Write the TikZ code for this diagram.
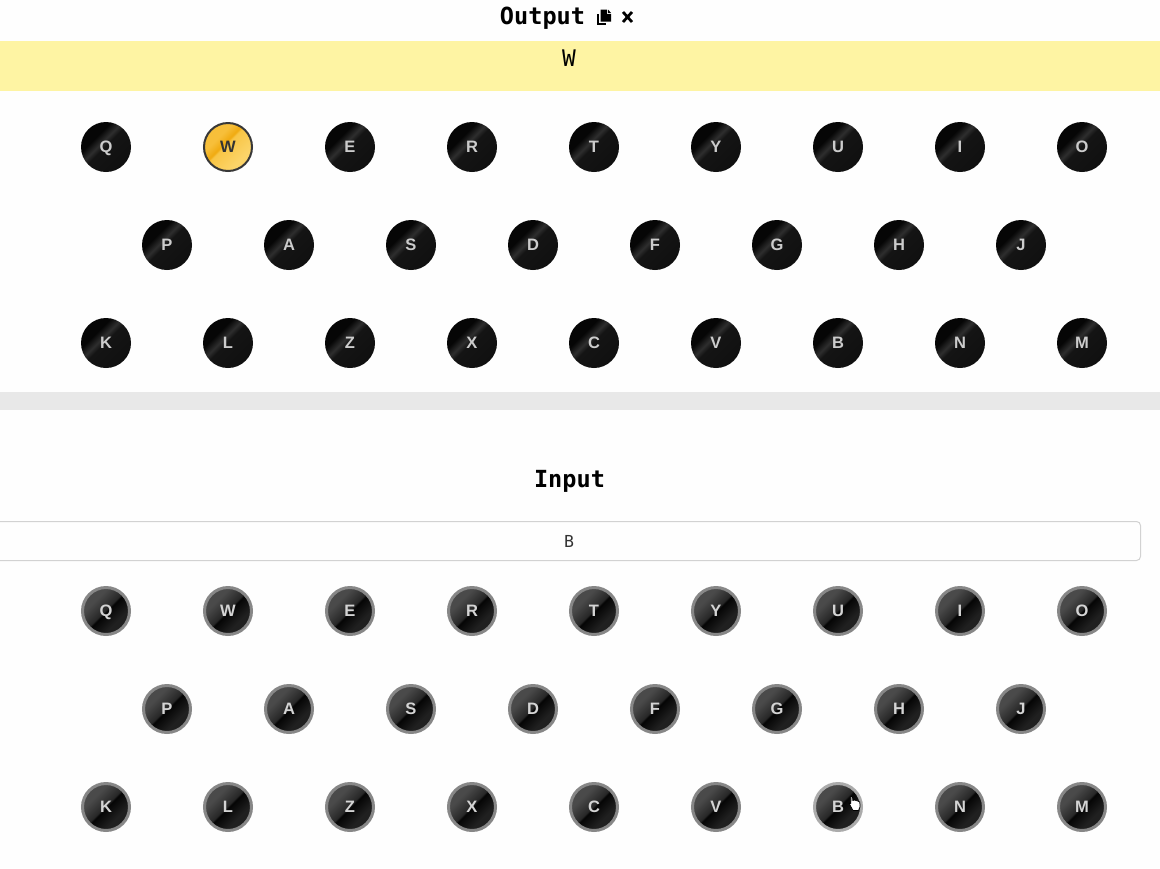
\documentclass[tikz,border=0pt]{standalone}
\usepackage{fontspec}
\newfontfamily\keyfont{Liberation Sans}
\newfontfamily\monofont{DejaVu Sans Mono}
\definecolor{pagebg}{HTML}{FEFEFE}
\definecolor{bandyellow}{HTML}{FEF4A3}
\definecolor{bandgray}{HTML}{E8E8E8}
\definecolor{boxline}{HTML}{D2D2D2}
\definecolor{outa}{HTML}{060606}
\definecolor{outb}{HTML}{2E2E2E}
\definecolor{outc}{HTML}{141414}
\definecolor{outd}{HTML}{0C0C0C}
\definecolor{ona}{HTML}{F7BF3A}
\definecolor{onb}{HTML}{F0AA10}
\definecolor{onc}{HTML}{F8C545}
\definecolor{ond}{HTML}{FCD468}
\definecolor{ina}{HTML}{4A4A4A}
\definecolor{inb}{HTML}{262626}
\definecolor{inc}{HTML}{040404}
\definecolor{ind}{HTML}{202020}
\pgfdeclarehorizontalshading{outshade}{100bp}{color(0bp)=(outa); color(36bp)=(outa); color(44bp)=(outb); color(49bp)=(outc); color(100bp)=(outd)}
\pgfdeclarehorizontalshading{onshade}{100bp}{color(0bp)=(ona); color(36bp)=(ona); color(45bp)=(onb); color(47bp)=(onc); color(68bp)=(ond); color(100bp)=(ond)}
\pgfdeclarehorizontalshading{inshade}{100bp}{color(0bp)=(ina); color(34bp)=(ina); color(49.5bp)=(inb); color(50.5bp)=(inc); color(66bp)=(ind); color(100bp)=(ind)}
\begin{document}
\begin{tikzpicture}[
x=0.2mm,y=-0.2mm,
keybase/.style={
circle,
inner sep=0pt,
font=\keyfont\bfseries\fontsize{9.4}{10}\selectfont,
text height=2.35mm,
text depth=0pt
},
outkey/.style={
keybase,
minimum size=10mm,
shading=outshade,
shading angle=-45,
text=black!20!white
},
onkey/.style={
keybase,
minimum size=9.6mm,
draw=black!78!white,
line width=0.4mm,
shading=onshade,
shading angle=-45,
text=black!80!white
},
inkey/.style={
keybase,
minimum size=9.4mm,
draw=black!47!white,
line width=0.6mm,
shading=inshade,
shading angle=-45,
text=black!17!white
},
hoverkey/.style={
inkey,
draw=black!33!white
},
title/.style={
font=\monofont\bfseries\fontsize{13.4}{15}\selectfont,
text height=3.4mm,
text depth=0pt,
inner sep=0pt
}
]
\useasboundingbox[fill=pagebg] (0,0) rectangle (1160,868);
\fill[bandyellow] (0,41) rectangle (1160,91);
\fill[bandgray] (0,392) rectangle (1160,410);
\node[title] (outtitle) at (542.5,16) {Output};
\node[font=\monofont\fontsize{13}{15}\selectfont,text height=3.3mm,text depth=0pt,inner sep=0pt] (outtext) at (569,58) {W};
% copy icon and close icon
\fill[black] (596.5,14) rectangle (606,24.5);
\fill[pagebg] (599,11.5) rectangle (612,23);
\fill[black] (600.5,9.5) -- (607,9.5) -- (607,14) -- (611,14) -- (611,21.5) -- (600.5,21.5) -- cycle;
\fill[black] (608,9.5) -- (611,13) -- (608,13) -- cycle;
\draw[black,line width=0.55mm] (623,12) -- (632,22) (632,12) -- (623,22);
% output keys
\node[outkey] (outq) at (106,147) {Q};
\node[onkey] (outw) at (228,147) {W};
\node[outkey] (oute) at (350,147) {E};
\node[outkey] (outr) at (472,147) {R};
\node[outkey] (outt) at (594,147) {T};
\node[outkey] (outy) at (716,147) {Y};
\node[outkey] (outu) at (838,147) {U};
\node[outkey] (outi) at (960,147) {I};
\node[outkey] (outo) at (1082,147) {O};
\node[outkey] (outp) at (167,245) {P};
\node[outkey] (outa) at (289,245) {A};
\node[outkey] (outs) at (411,245) {S};
\node[outkey] (outd) at (533,245) {D};
\node[outkey] (outf) at (655,245) {F};
\node[outkey] (outg) at (777,245) {G};
\node[outkey] (outh) at (899,245) {H};
\node[outkey] (outj) at (1021,245) {J};
\node[outkey] (outk) at (106,343) {K};
\node[outkey] (outl) at (228,343) {L};
\node[outkey] (outz) at (350,343) {Z};
\node[outkey] (outx) at (472,343) {X};
\node[outkey] (outc) at (594,343) {C};
\node[outkey] (outv) at (716,343) {V};
\node[outkey] (outb) at (838,343) {B};
\node[outkey] (outn) at (960,343) {N};
\node[outkey] (outm) at (1082,343) {M};
\node[title] (intitle) at (569.5,479) {Input};
\draw[boxline,line width=0.2mm,rounded corners=0.8mm] (-6,521.5) rectangle (1140.5,560.5);
\node[font=\monofont\fontsize{9.4}{11}\selectfont,text height=2.4mm,text depth=0pt,inner sep=0pt,text=black!80!white] (intext) at (569,541) {B};
% input keys
\node[inkey] (inq) at (106,611) {Q};
\node[inkey] (inw) at (228,611) {W};
\node[inkey] (ine) at (350,611) {E};
\node[inkey] (inr) at (472,611) {R};
\node[inkey] (int) at (594,611) {T};
\node[inkey] (iny) at (716,611) {Y};
\node[inkey] (inu) at (838,611) {U};
\node[inkey] (ini) at (960,611) {I};
\node[inkey] (ino) at (1082,611) {O};
\node[inkey] (inp) at (167,709) {P};
\node[inkey] (ina) at (289,709) {A};
\node[inkey] (ins) at (411,709) {S};
\node[inkey] (ind) at (533,709) {D};
\node[inkey] (inf) at (655,709) {F};
\node[inkey] (ing) at (777,709) {G};
\node[inkey] (inh) at (899,709) {H};
\node[inkey] (inj) at (1021,709) {J};
\node[inkey] (ink) at (106,807) {K};
\node[inkey] (inl) at (228,807) {L};
\node[inkey] (inz) at (350,807) {Z};
\node[inkey] (inx) at (472,807) {X};
\node[inkey] (inc) at (594,807) {C};
\node[inkey] (inv) at (716,807) {V};
\node[hoverkey] (inb) at (838,807) {B};
\node[inkey] (inn) at (960,807) {N};
\node[inkey] (inm) at (1082,807) {M};
% pointer
\draw[fill=white,draw=black,line width=0.15mm,line join=round] (851,796.5) -- (852.5,796.5) -- (852.8,800.5) -- (854.5,800) -- (856,800.5) -- (857.8,801) -- (859.8,802) -- (860,807) -- (858.5,810.5) -- (853,810.5) -- (850.5,806) -- (849,803) -- (850.8,803.5) -- cycle;
\end{tikzpicture}
\end{document}
